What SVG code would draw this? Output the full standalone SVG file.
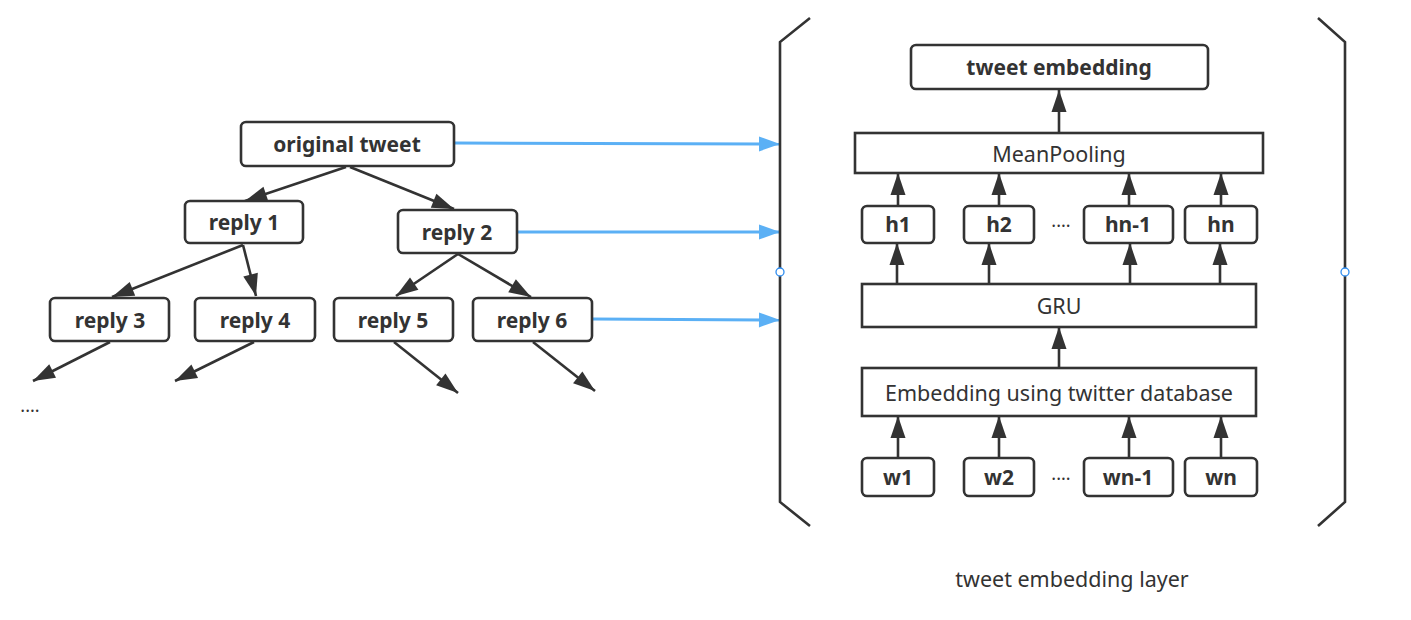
<svg xmlns="http://www.w3.org/2000/svg" width="1411" height="620" viewBox="0 0 1411 620">
<style>
.box{fill:#fff;stroke:#333;stroke-width:2.6}
.t{font-family:"Noto Sans","Open Sans",sans-serif;font-size:21.5px;fill:#333;text-anchor:middle;dominant-baseline:central}
.b{font-weight:bold;font-size:21px}
.d{font-size:18px}
.e{stroke:#333;stroke-width:2.6;fill:none}
.bl{stroke:#5BB0F5;stroke-width:3;fill:none}
</style>
<defs>
<marker id="ah" markerUnits="userSpaceOnUse" markerWidth="24" markerHeight="18" refX="22" refY="8" orient="auto" overflow="visible"><path d="M0,0.5 L22,8 L0,15.5 z" fill="#333"/></marker>
<marker id="bh" markerUnits="userSpaceOnUse" markerWidth="22" markerHeight="16" refX="21" refY="7.5" orient="auto" overflow="visible"><path d="M0,0 L21,7.5 L0,15 z" fill="#5BB0F5"/></marker>
</defs>
<rect width="1411" height="620" fill="#fff"/>
<g id="connectors">
<line class="e" x1="346" y1="167" x2="245" y2="201" marker-end="url(#ah)"/>
<line class="e" x1="350" y1="167" x2="454" y2="209" marker-end="url(#ah)"/>
<line class="e" x1="243" y1="245" x2="112" y2="297" marker-end="url(#ah)"/>
<line class="e" x1="243" y1="245" x2="256" y2="296" marker-end="url(#ah)"/>
<line class="e" x1="458" y1="254" x2="396" y2="296" marker-end="url(#ah)"/>
<line class="e" x1="458" y1="254" x2="531" y2="297" marker-end="url(#ah)"/>
<line class="e" x1="110" y1="342" x2="33" y2="381" marker-end="url(#ah)"/>
<line class="e" x1="254" y1="342" x2="175" y2="381" marker-end="url(#ah)"/>
<line class="e" x1="394" y1="342" x2="458" y2="393" marker-end="url(#ah)"/>
<line class="e" x1="533" y1="342" x2="595" y2="391" marker-end="url(#ah)"/>
<line class="bl" x1="455" y1="143" x2="780" y2="144" marker-end="url(#bh)"/>
<line class="bl" x1="518" y1="232" x2="780" y2="232" marker-end="url(#bh)"/>
<line class="bl" x1="593" y1="319" x2="780" y2="320" marker-end="url(#bh)"/>
<line class="e" x1="1059" y1="132" x2="1059" y2="90" marker-end="url(#ah)"/>
<line class="e" x1="898" y1="206" x2="898" y2="173" marker-end="url(#ah)"/>
<line class="e" x1="999" y1="206" x2="999" y2="173" marker-end="url(#ah)"/>
<line class="e" x1="1129" y1="206" x2="1129" y2="173" marker-end="url(#ah)"/>
<line class="e" x1="1221" y1="206" x2="1221" y2="173" marker-end="url(#ah)"/>
<line class="e" x1="897" y1="284" x2="897" y2="243" marker-end="url(#ah)"/>
<line class="e" x1="989" y1="284" x2="989" y2="243" marker-end="url(#ah)"/>
<line class="e" x1="1130" y1="284" x2="1130" y2="243" marker-end="url(#ah)"/>
<line class="e" x1="1220" y1="284" x2="1220" y2="243" marker-end="url(#ah)"/>
<line class="e" x1="1059" y1="368" x2="1059" y2="327" marker-end="url(#ah)"/>
<line class="e" x1="898" y1="458" x2="898" y2="416" marker-end="url(#ah)"/>
<line class="e" x1="999" y1="458" x2="999" y2="416" marker-end="url(#ah)"/>
<line class="e" x1="1129" y1="458" x2="1129" y2="416" marker-end="url(#ah)"/>
<line class="e" x1="1221" y1="458" x2="1221" y2="416" marker-end="url(#ah)"/>
</g>
<g id="bracket-left"><polyline class="e" points="810,18 780,42 780,502 810,526"/><circle cx="780" cy="272" r="4" fill="#fff" stroke="#2D8CF0" stroke-width="1.3"/></g>
<g id="bracket-right"><polyline class="e" points="1318,18 1345,42 1345,502 1318,526"/><circle cx="1345" cy="272" r="4" fill="#fff" stroke="#2D8CF0" stroke-width="1.3"/></g>
<g id="original-tweet"><rect class="box" x="241" y="122" width="213" height="44" rx="5"/><text class="t b" x="347" y="144">original tweet</text></g>
<g id="reply1"><rect class="box" x="185" y="201" width="118" height="42" rx="5"/><text class="t b" x="244" y="222">reply 1</text></g>
<g id="reply2"><rect class="box" x="398" y="210" width="119" height="43" rx="5"/><text class="t b" x="457" y="232">reply 2</text></g>
<g id="reply3"><rect class="box" x="50" y="298" width="119" height="43" rx="5"/><text class="t b" x="110" y="320">reply 3</text></g>
<g id="reply4"><rect class="box" x="195" y="298" width="120" height="43" rx="5"/><text class="t b" x="255" y="320">reply 4</text></g>
<g id="reply5"><rect class="box" x="334" y="298" width="119" height="43" rx="5"/><text class="t b" x="393" y="320">reply 5</text></g>
<g id="reply6"><rect class="box" x="473" y="298" width="119" height="43" rx="5"/><text class="t b" x="532" y="320">reply 6</text></g>
<g id="dots-left"><text class="t d" x="30" y="405">....</text></g>
<g id="tweet-embedding"><rect class="box" x="911" y="45" width="297" height="44" rx="5"/><text class="t b" x="1059" y="67">tweet embedding</text></g>
<g id="meanpooling"><rect class="box" x="855" y="133" width="408" height="40"/><text class="t" x="1059" y="153">MeanPooling</text></g>
<g id="h1"><rect class="box" x="862" y="206" width="72" height="37" rx="5"/><text class="t b" x="898" y="224">h1</text></g>
<g id="h2"><rect class="box" x="964" y="206" width="70" height="37" rx="5"/><text class="t b" x="999" y="224">h2</text></g>
<g id="dots-h"><text class="t d" x="1061" y="220">....</text></g>
<g id="hn-1"><rect class="box" x="1084" y="206" width="89" height="37" rx="5"/><text class="t b" x="1128" y="224">hn-1</text></g>
<g id="hn"><rect class="box" x="1185" y="206" width="72" height="37" rx="5"/><text class="t b" x="1221" y="224">hn</text></g>
<g id="gru"><rect class="box" x="862" y="284" width="394" height="43"/><text class="t" x="1059" y="305">GRU</text></g>
<g id="embedding"><rect class="box" x="862" y="368" width="394" height="48"/><text class="t" x="1059" y="392">Embedding using twitter database</text></g>
<g id="w1"><rect class="box" x="862" y="458" width="72" height="38" rx="5"/><text class="t b" x="898" y="477">w1</text></g>
<g id="w2"><rect class="box" x="964" y="458" width="70" height="38" rx="5"/><text class="t b" x="999" y="477">w2</text></g>
<g id="dots-w"><text class="t d" x="1061" y="473">....</text></g>
<g id="wn-1"><rect class="box" x="1084" y="458" width="89" height="38" rx="5"/><text class="t b" x="1128" y="477">wn-1</text></g>
<g id="wn"><rect class="box" x="1185" y="458" width="72" height="38" rx="5"/><text class="t b" x="1221" y="477">wn</text></g>
<g id="layer-label"><text class="t" x="1072" y="578">tweet embedding layer</text></g>
</svg>
